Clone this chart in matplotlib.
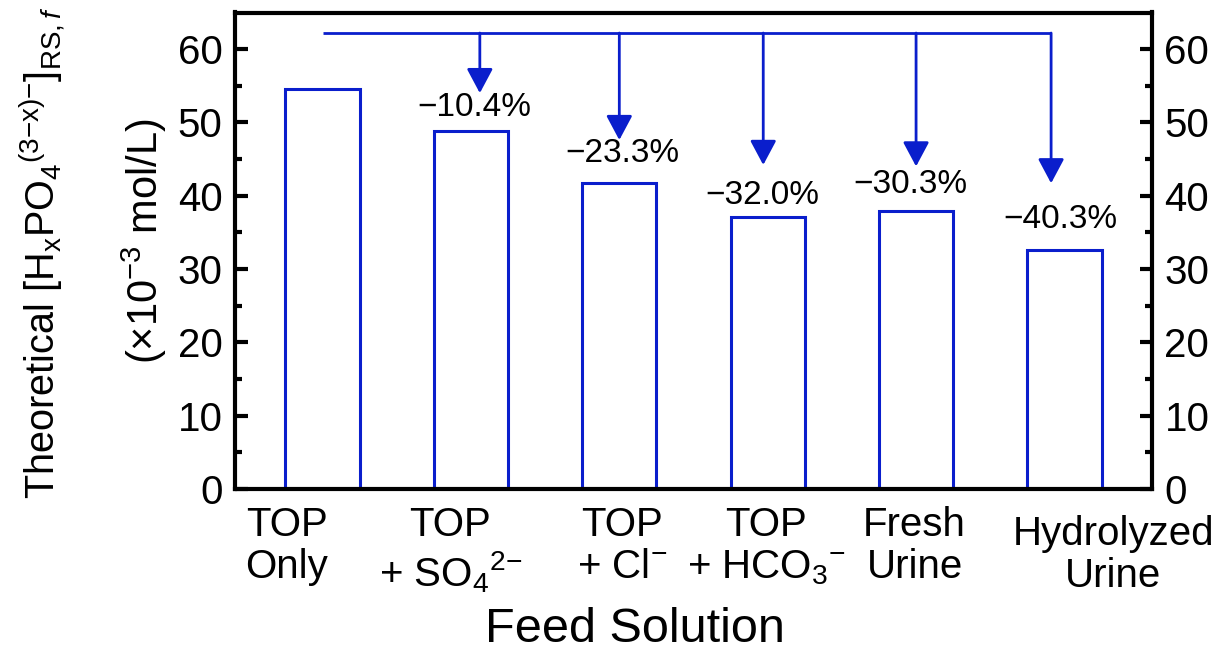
import matplotlib
matplotlib.use("Agg")
import matplotlib.pyplot as plt
from matplotlib.transforms import ScaledTranslation

plt.rcParams["font.family"] = ["Liberation Sans", "DejaVu Sans"]
plt.rcParams["mathtext.fontset"] = "custom"
plt.rcParams["mathtext.rm"] = "Liberation Sans"
plt.rcParams["mathtext.it"] = "Liberation Sans:italic"
plt.rcParams["mathtext.bf"] = "Liberation Sans:bold"
plt.rcParams["mathtext.sf"] = "Liberation Sans"

# ---- data ----
categories = [
    "TOP\nOnly",
    "TOP\n+ SO$_4$$^{2{\u2212}}$",
    "TOP\n+ Cl$^{\u2212}$",
    "TOP\n+ HCO$_3$$^{\u2212}$",
    "Fresh\nUrine",
    "Hydrolyzed\nUrine",
]
concentration = [54.5, 48.8, 41.8, 37.06, 37.99, 32.54]   # x10^-3 mol/L
reduction_pct = [-10.4, -23.3, -32.0, -30.3, -40.3]        # vs. TOP only

# ---- layout ----
label_x = [-0.24, 0.86, 2.02, 2.99, 3.99, 5.33]
pct_x = [1.02, 2.02, 2.965, 3.96, 4.97]
pct_y = [52.1, 45.8, 40.1, 41.5, 36.7]
arrow_x = [1.06, 2.0, 2.97, 4.0, 4.91]
arrow_tip = [54.0, 47.6, 44.2, 44.0, 41.7]
bracket_y = 62.2

blue = "#0a1ecc"

fig = plt.figure(figsize=(12.18, 6.53), dpi=100)
ax = fig.add_axes([235 / 1218, 1 - 489 / 653, (1152 - 235) / 1218, (489 - 12.5) / 653])

xpos = list(range(len(concentration)))
ax.bar(xpos, concentration, width=0.5, facecolor="white", edgecolor=blue,
       linewidth=2.2, zorder=2)

# bracket with arrows pointing to each reduced case
ax.plot([0, arrow_x[-1]], [bracket_y, bracket_y], color=blue, lw=2.0,
        solid_capstyle="butt", zorder=3)
for xa, yt in zip(arrow_x, arrow_tip):
    ax.annotate("", xy=(xa, yt), xytext=(xa, bracket_y),
                arrowprops=dict(arrowstyle="-|>,head_length=0.75,head_width=0.4",
                                mutation_scale=20, lw=2.0, color=blue,
                                shrinkA=0, shrinkB=0), zorder=3)

for xp, yp, p in zip(pct_x, pct_y, reduction_pct):
    ax.text(xp, yp, f"{p:.1f}%".replace("-", "\u2212"), ha="center", va="center",
            fontsize=24, color="black")

ax.set_xlim(-0.59, 5.59)
ax.set_ylim(0, 65)
ax.set_yticks(range(0, 61, 10))
ax.set_yticks(range(5, 65, 10), minor=True)
ax.tick_params(axis="y", which="both", direction="in", left=True, right=True,
               labelleft=True, labelright=True, labelsize=29, width=3, pad=9)
ax.tick_params(axis="y", which="major", length=9)
ax.tick_params(axis="y", which="minor", length=5)
ax.set_xticks(label_x)
ax.set_xticklabels(categories, fontsize=29, linespacing=1.15)
ax.tick_params(axis="x", length=0, pad=12)
for s in ax.spines.values():
    s.set_linewidth(3)

# the last category label sits a little lower
last = ax.get_xticklabels()[-1]
last.set_transform(last.get_transform() +
                   ScaledTranslation(0, -9 / 100, fig.dpi_scale_trans))

fig.text(635 / 1218, 1 - 642 / 653, "Feed Solution", ha="center", va="baseline",
         fontsize=35)
fig.text(42 / 1218, 1 - 253 / 653,
         "Theoretical [H$_\\mathrm{x}$PO$_4$$^{\\mathrm{(3{\u2212}x){\u2212}}}$]$_{\\mathrm{RS},f}$",
         rotation=90, ha="center", va="center", fontsize=28.5)
fig.text(144 / 1218, 1 - 241 / 653, "(\u00d710$^{{\u2212}3}$ mol/L)",
         rotation=90, ha="center", va="center", fontsize=30)

fig.savefig("out.png", dpi=100)
